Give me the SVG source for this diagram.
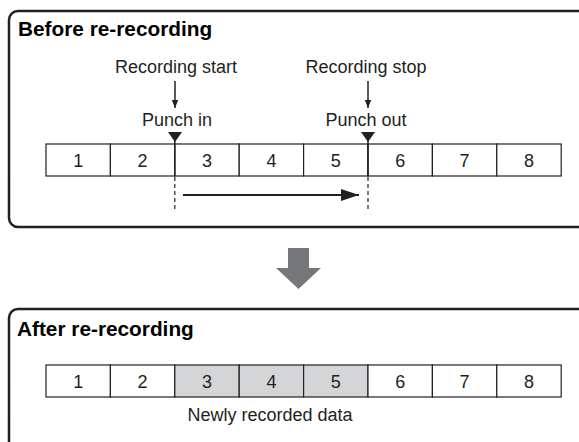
<svg xmlns="http://www.w3.org/2000/svg" width="579" height="442" viewBox="0 0 579 442">
<style>
.frame{fill:#fff;stroke:#231f20;stroke-width:2.5}
.cell{fill:#fff;stroke:#231f20;stroke-width:1.2}
.new{fill:#d4d5d7}
.t{font-family:"Liberation Sans",Arial,sans-serif;font-size:18px;fill:#231f20;text-anchor:middle}
.h{font-family:"Liberation Sans",Arial,sans-serif;font-size:20.8px;font-weight:bold;fill:#000}
.ln{stroke:#231f20;stroke-width:1.5;fill:none}
.dash{stroke:#231f20;stroke-width:1.2;stroke-dasharray:4 3;fill:none}
</style>
<defs>
<marker id="ah" viewBox="0 0 10 10" refX="10" refY="5" markerWidth="8" markerHeight="8" markerUnits="userSpaceOnUse" orient="auto"><path d="M0,1 L10,5 L0,9 Z" fill="#231f20"/></marker>
<marker id="ah2" viewBox="0 0 18 12" refX="18" refY="6" markerWidth="18" markerHeight="12" markerUnits="userSpaceOnUse" orient="auto"><path d="M0,0 L18,6 L0,12 Z" fill="#231f20"/></marker>
</defs>
<g id="before">
<rect class="frame" x="9" y="11" width="590" height="216" rx="9"/>
<text class="h" x="18" y="36">Before re-recording</text>
<g id="before-cells">
<rect class="cell" x="46" y="144" width="64.4" height="32"/>
<rect class="cell" x="110.4" y="144" width="64.4" height="32"/>
<rect class="cell" x="174.8" y="144" width="64.4" height="32"/>
<rect class="cell" x="239.2" y="144" width="64.4" height="32"/>
<rect class="cell" x="303.6" y="144" width="64.4" height="32"/>
<rect class="cell" x="368" y="144" width="64.4" height="32"/>
<rect class="cell" x="432.4" y="144" width="64.4" height="32"/>
<rect class="cell" x="496.8" y="144" width="64.4" height="32"/>
<text class="t" x="78.2" y="167">1</text>
<text class="t" x="142.6" y="167">2</text>
<text class="t" x="207" y="167">3</text>
<text class="t" x="271.4" y="167">4</text>
<text class="t" x="335.8" y="167">5</text>
<text class="t" x="400.2" y="167">6</text>
<text class="t" x="464.6" y="167">7</text>
<text class="t" x="529" y="167">8</text>
</g>
</g>
<g id="punch-in">
<text class="t" x="176" y="73">Recording start</text>
<text class="t" x="177" y="126">Punch in</text>
<path d="M168,132 L182,132 L175,142 Z" fill="#231f20"/>
</g>
<g id="punch-out">
<text class="t" x="366" y="73">Recording stop</text>
<text class="t" x="366" y="126">Punch out</text>
<path d="M361,132 L375,132 L368,142 Z" fill="#231f20"/>
</g>
<g id="connectors">
<line class="ln" x1="175" y1="81" x2="175" y2="108" marker-end="url(#ah)"/>
<line class="ln" x1="368" y1="81" x2="368" y2="108" marker-end="url(#ah)"/>
<line class="ln" x1="174.8" y1="140" x2="174.8" y2="176"/>
<line class="ln" x1="368" y1="140" x2="368" y2="176"/>
<line class="dash" x1="174.8" y1="177" x2="174.8" y2="211"/>
<line class="dash" x1="368" y1="177" x2="368" y2="211"/>
<line x1="183" y1="195" x2="359" y2="195" stroke="#231f20" stroke-width="2.2" marker-end="url(#ah2)"/>
<path d="M288,248 L309,248 L309,268 L321,268 L298.5,289 L276,268 L288,268 Z" fill="#76777a"/>
</g>
<g id="after">
<rect class="frame" x="9" y="309" width="590" height="160" rx="9"/>
<text class="h" x="17" y="336">After re-recording</text>
<g id="after-cells">
<rect class="cell" x="46" y="365" width="64.4" height="32"/>
<rect class="cell" x="110.4" y="365" width="64.4" height="32"/>
<rect class="cell new" x="174.8" y="365" width="64.4" height="32"/>
<rect class="cell new" x="239.2" y="365" width="64.4" height="32"/>
<rect class="cell new" x="303.6" y="365" width="64.4" height="32"/>
<rect class="cell" x="368" y="365" width="64.4" height="32"/>
<rect class="cell" x="432.4" y="365" width="64.4" height="32"/>
<rect class="cell" x="496.8" y="365" width="64.4" height="32"/>
<text class="t" x="78.2" y="388">1</text>
<text class="t" x="142.6" y="388">2</text>
<text class="t" x="207" y="388">3</text>
<text class="t" x="271.4" y="388">4</text>
<text class="t" x="335.8" y="388">5</text>
<text class="t" x="400.2" y="388">6</text>
<text class="t" x="464.6" y="388">7</text>
<text class="t" x="529" y="388">8</text>
</g>
<text class="t" x="270" y="421">Newly recorded data</text>
</g>
</svg>
